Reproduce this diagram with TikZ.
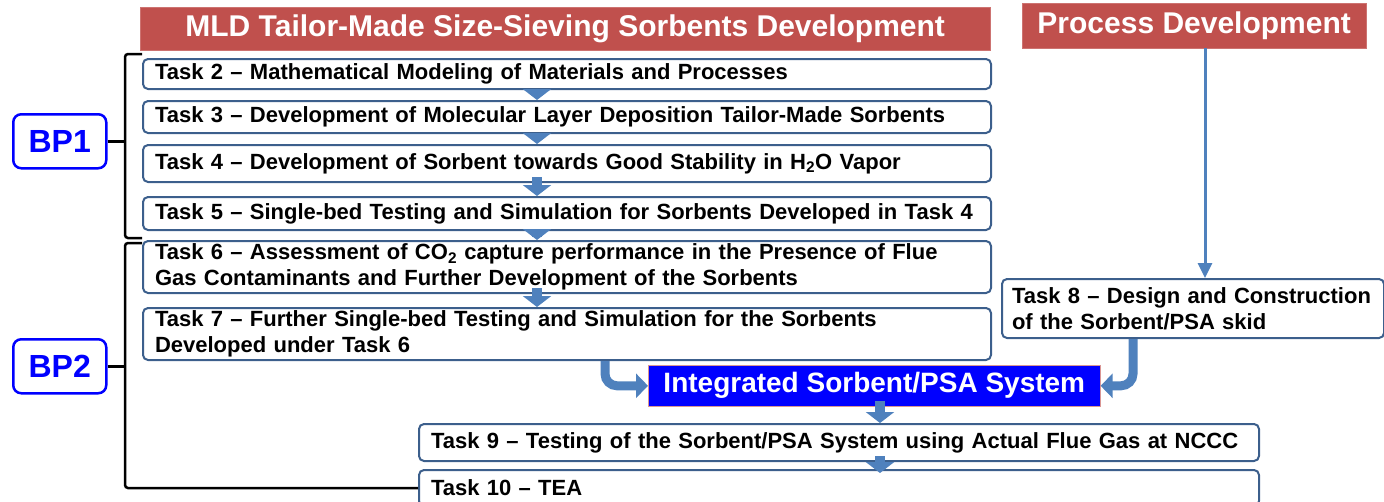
\documentclass[tikz,border=0pt]{standalone}
\usepackage{fontspec}
\setmainfont{Liberation Sans}
\usetikzlibrary{calc,positioning,arrows.meta}
\definecolor{headred}{RGB}{192,80,77}
\definecolor{taskedge}{RGB}{60,95,140}
\definecolor{flowblue}{RGB}{79,129,189}
\definecolor{bpblue}{RGB}{0,0,255}

\begin{document}
\begin{tikzpicture}[x=1pt, y=-1pt,
  header/.style={fill=headred, draw=headred!80!white, anchor=north west,
    inner sep=0pt, font=\fontsize{30}{32}\selectfont\bfseries, text=white},
  task/.style={draw=taskedge, line width=2pt, fill=white, rounded corners=5pt,
    anchor=north west, inner xsep=12pt, inner ysep=0pt, align=left,
    font=\fontsize{22}{26}\selectfont\bfseries},
  phase/.style={draw=bpblue, line width=2.5pt, rounded corners=8pt,
    text=bpblue, anchor=north west, inner sep=0pt,
    font=\fontsize{32}{34}\selectfont\bfseries},
  system/.style={fill=bpblue, draw=headred!60, line width=0.6pt,
    anchor=north west, inner sep=0pt, text=white,
    font=\fontsize{28}{30}\selectfont\bfseries},
  bracket/.style={line width=2.5pt, rounded corners=3pt},
  stepflow/.style={flowblue, line width=10pt, shorten <=-6pt,
    -{Triangle[width=28pt,length=11pt]}},
  feed/.style={flowblue, line width=9pt, rounded corners=12pt,
    -{Triangle[width=24pt,length=12pt]}},
  pdline/.style={flowblue, line width=3pt, -{Triangle[width=14pt,length=15pt]}},
]
  \useasboundingbox (0,0) rectangle (1384,501);

  % Headers
  \node[header, minimum width=850pt, minimum height=43pt] (mld) at (140,7)
    {MLD Tailor-Made Size-Sieving Sorbents Development};
  \node[header, minimum width=344pt, minimum height=45pt] (pd) at (1022,3)
    {Process Development};

  % Sorbent tasks
  \node[task, text width=824pt, minimum height=30pt] (t2) at (142,58)
    {Task 2 -- Mathematical Modeling of Materials and Processes};
  \node[task, text width=824pt, minimum height=32pt] (t3) at (142,100)
    {Task 3 -- Development of Molecular Layer Deposition Tailor-Made Sorbents};
  \node[task, text width=824pt, minimum height=37pt] (t4) at (142,144)
    {Task 4 -- Development of Sorbent towards Good Stability in H\textsubscript{2}O Vapor};
  \node[task, text width=824pt, minimum height=33pt] (t5) at (142,196)
    {Task 5 -- Single-bed Testing and Simulation for Sorbents Developed in Task 4};
  \node[task, text width=824pt, minimum height=52pt] (t6) at (142,240)
    {Task 6 -- Assessment of CO\textsubscript{2} capture performance in the Presence of Flue\\
     Gas Contaminants and Further Development of the Sorbents};
  \node[task, text width=824pt, minimum height=52pt] (t7) at (142,307)
    {Task 7 -- Further Single-bed Testing and Simulation for the Sorbents\\
     Developed under Task 6};

  % Process side
  \node[task, inner xsep=10pt, text width=362pt, minimum height=59pt] (t8) at (1001,278)
    {Task 8 -- Design and Construction\\of the Sorbent/PSA skid};

  % Integration and testing
  \node[system, minimum width=452pt, minimum height=41pt] (sys) at (648,365)
    {Integrated Sorbent/PSA System};
  \node[task, text width=816pt, minimum height=37pt] (t9) at (418,423)
    {Task 9 -- Testing of the Sorbent/PSA System using Actual Flue Gas at NCCC};
  \node[task, text width=816pt, minimum height=36pt] (t10) at (418,469)
    {Task 10 -- TEA};

  % Budget periods
  \node[phase, minimum width=93pt, minimum height=54pt] (bp1) at (12,113) {BP1};
  \node[phase, minimum width=93pt, minimum height=54pt] (bp2) at (12,338) {BP2};

  % Columns for the arrows
  \coordinate (acol) at (537,0);
  \coordinate (bcol) at (880,0);
  \coordinate (lcol) at (605,0);
  \coordinate (rcol) at (1133,0);
  \coordinate (pdcol) at (1205,0);
  \coordinate (brx) at (125,0);

  % Task flow
  \draw[stepflow] (t2.south -| acol) -- (t3.north -| acol);
  \draw[stepflow] (t3.south -| acol) -- (t4.north -| acol);
  \draw[stepflow] (t4.south -| acol) -- (t5.north -| acol);
  \draw[stepflow] (t5.south -| acol) -- (t6.north -| acol);
  \draw[stepflow] (t6.south -| acol) -- (t7.north -| acol);
  \draw[stepflow] (sys.south -| bcol) -- (t9.north -| bcol);
  \draw[stepflow, shorten >=-4pt] (t9.south -| bcol) -- (t10.north -| bcol);

  % Into the integrated system
  \draw[feed] (t7.south -| lcol) |- (sys.west);
  \draw[feed] (t8.south -| rcol) |- (sys.east);
  \draw[pdline] (pd.south -| pdcol) -- (t8.north -| pdcol);

  % Brackets
  \coordinate (bp1top) at ([yshift=4pt]t2.north west);
  \coordinate (bp1bot) at ([yshift=-7pt]t5.south west);
  \draw[bracket] (bp1top) -| (brx |- bp1bot) -- (bp1bot);
  \draw[bracket] (bp1.east) -- (bp1.east -| brx);
  \coordinate (bp2top) at ([yshift=-3pt]t6.north west);
  \draw[bracket] (bp2top) -| (brx |- t10.west) -- (t10.west);
  \draw[bracket] (bp2.east) -- (bp2.east -| brx);
\end{tikzpicture}
\end{document}
